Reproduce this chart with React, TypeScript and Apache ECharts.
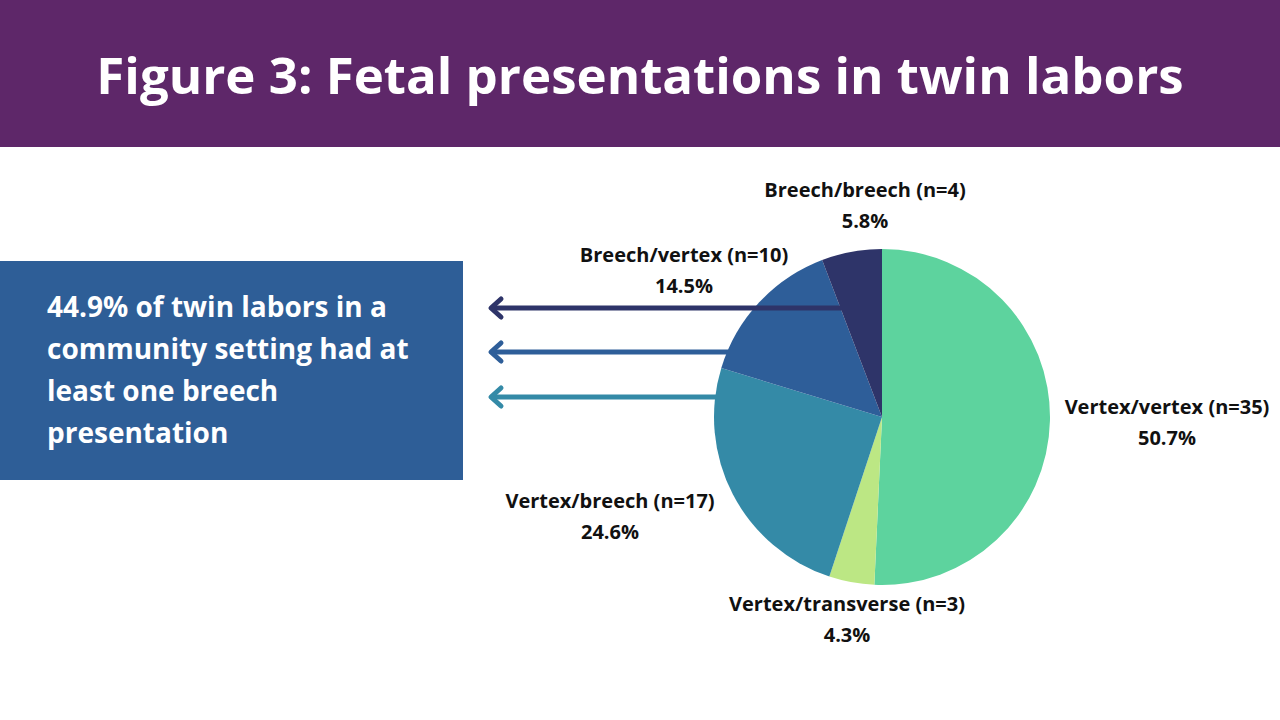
import React, { useEffect, useRef } from "react";
import * as echarts from "echarts";

const categories = ["Vertex/vertex", "Vertex/transverse", "Vertex/breech", "Breech/vertex", "Breech/breech"];
const counts = [35, 3, 17, 10, 4];
const percents = ["50.7%", "4.3%", "24.6%", "14.5%", "5.8%"];
const sliceColors = ["#5DD39E", "#BCE784", "#348AA7", "#2E5E99", "#2E3469"];
const labelPos: [number, number][] = [
  [1167, 422],
  [847, 619],
  [610, 516],
  [684, 270],
  [865, 205],
];
const calloutLines = ["44.9% of twin labors in a", "community setting had at", "least one breech", "presentation"];
const arrows = [
  { y: 308, x2: 843, color: "#2E3469" },
  { y: 352, x2: 728, color: "#2E5E99" },
  { y: 397, x2: 716, color: "#348AA7" },
];

export default function App() {
  const ref = useRef<HTMLDivElement>(null);
  useEffect(() => {
    if (!ref.current) return;
    const chart = echarts.init(ref.current, null, { renderer: "svg" });
    const font = "'Open Sans', Lato, sans-serif";
    const graphics: any[] = [
      { type: "rect", shape: { x: 0, y: 0, width: 1280, height: 147 }, style: { fill: "#5E2769" }, z: 1 },
      {
        type: "text",
        x: 640,
        y: 74,
        style: {
          text: "Figure 3: Fetal presentations in twin labors",
          fill: "#fff",
          font: `bold 51px ${font}`,
          textAlign: "center",
          textVerticalAlign: "middle",
        },
        z: 2,
      },
      { type: "rect", shape: { x: 0, y: 261, width: 463, height: 219 }, style: { fill: "#2E5E97" }, z: 1 },
      ...calloutLines.map((t, i) => ({
        type: "text",
        x: 47,
        y: 306 + i * 42,
        style: { text: t, fill: "#fff", font: `bold 28px ${font}`, textVerticalAlign: "middle" },
        z: 2,
      })),
    ];
    arrows.forEach((a) => {
      graphics.push({
        type: "line",
        shape: { x1: 492, y1: a.y, x2: a.x2, y2: a.y },
        style: { stroke: a.color, lineWidth: 5 },
        z: 10,
      });
      graphics.push({
        type: "polyline",
        shape: { points: [[501, a.y - 9], [491, a.y], [501, a.y + 9]] },
        style: { stroke: a.color, lineWidth: 5, fill: "none", lineCap: "round", lineJoin: "round" },
        z: 10,
      });
    });
    chart.setOption({
      animation: false,
      graphic: graphics,
      series: [
        {
          type: "pie",
          center: [882, 417],
          radius: 168,
          startAngle: 90,
          clockwise: true,
          z: 3,
          data: categories.map((c, i) => ({ name: c, value: counts[i], itemStyle: { color: sliceColors[i] } })),
          label: {
            show: true,
            position: "outside",
            formatter: (p: any) => `${p.name} (n=${counts[p.dataIndex]})\n${percents[p.dataIndex]}`,
            color: "#111",
            fontFamily: font,
            fontWeight: "bold",
            fontSize: 20,
            lineHeight: 31,
            align: "center",
            overflow: "none",
            width: 300,
          },
          labelLine: { show: false },
          labelLayout: (params: any) => ({
            x: labelPos[params.dataIndex][0],
            y: labelPos[params.dataIndex][1],
            align: "center",
            verticalAlign: "middle",
          }),
          emphasis: { disabled: true },
        },
      ],
    });
    return () => chart.dispose();
  }, []);
  return <div ref={ref} style={{ position: "fixed", left: 0, top: 0, width: 1280, height: 720, background: "#fff" }} />;
}
